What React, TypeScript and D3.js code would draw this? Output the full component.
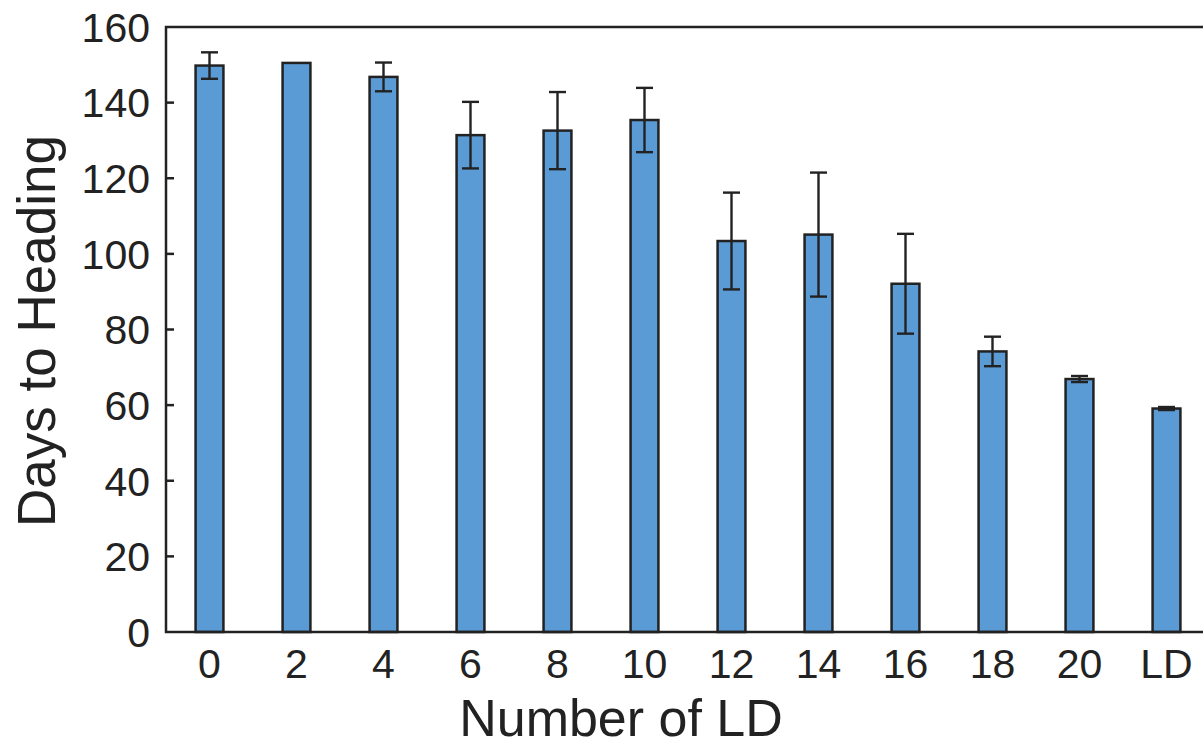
import * as d3 from "d3";
import { useEffect, useRef } from "react";

// categories and values
const categories = ["0", "2", "4", "6", "8", "10", "12", "14", "16", "18", "20", "LD"];
const meanDays = [149.8, 150.5, 146.8, 131.4, 132.6, 135.4, 103.4, 105.1, 92.1, 74.2, 66.9, 59.1];
const errDays = [3.5, 0, 3.8, 8.8, 10.2, 8.5, 12.8, 16.4, 13.2, 3.9, 0.8, 0.4];
const yTicks = [0, 20, 40, 60, 80, 100, 120, 140, 160];

const W = 1203;
const H = 747;

const App = () => {
  const ref = useRef<SVGSVGElement>(null);

  useEffect(() => {
    document.body.style.margin = "0";
    const svg = d3.select(ref.current);
    svg.selectAll("*").remove();

    const margin = { top: 27, left: 166, bottom: 115, right: -7 };
    const left = margin.left;
    const right = W - margin.right;
    const top = margin.top;
    const bottom = H - margin.bottom;

    const x = d3.scaleBand().domain(categories).range([left, right]).paddingInner(0).paddingOuter(0);
    const y = d3.scaleLinear().domain([0, 160]).range([bottom, top]);

    const barW = x.step() * 0.32;
    const font = "'Liberation Sans', Arial, sans-serif";
    const color = "#222";

    // bars
    svg.append("g")
      .selectAll("rect")
      .data(categories)
      .enter()
      .append("rect")
      .attr("x", (d) => x(d)! + x.bandwidth() / 2 - barW / 2)
      .attr("y", (d, i) => y(meanDays[i]))
      .attr("width", barW)
      .attr("height", (d, i) => y(0) - y(meanDays[i]))
      .style("fill", "#5b9bd5")
      .style("stroke", color)
      .style("stroke-width", 2.5);

    // error bars
    const capW = 17;
    const eb = svg.append("g").style("stroke", color).style("stroke-width", 2.4);
    categories.forEach((c, i) => {
      if (errDays[i] <= 0) return;
      const cx = x(c)! + x.bandwidth() / 2;
      const hi = y(meanDays[i] + errDays[i]);
      const lo = y(meanDays[i] - errDays[i]);
      eb.append("line").attr("x1", cx).attr("x2", cx).attr("y1", hi).attr("y2", lo);
      eb.append("line").attr("x1", cx - capW / 2).attr("x2", cx + capW / 2).attr("y1", hi).attr("y2", hi);
      eb.append("line").attr("x1", cx - capW / 2).attr("x2", cx + capW / 2).attr("y1", lo).attr("y2", lo);
    });

    // frame
    svg.append("path")
      .attr("d", `M${right},${top}H${left}V${bottom}H${right}`)
      .style("fill", "none")
      .style("stroke", color)
      .style("stroke-width", 2.5);

    // y ticks inside
    svg.append("g")
      .selectAll("line")
      .data(yTicks.slice(1, -1))
      .enter()
      .append("line")
      .attr("x1", left)
      .attr("x2", left + 8)
      .attr("y1", (d) => y(d))
      .attr("y2", (d) => y(d))
      .style("stroke", color)
      .style("stroke-width", 2.5);

    svg.append("g")
      .selectAll("text")
      .data(yTicks)
      .enter()
      .append("text")
      .attr("x", left - 16)
      .attr("y", (d) => y(d))
      .attr("dy", "0.36em")
      .attr("text-anchor", "end")
      .style("font-family", font)
      .style("font-size", "41px")
      .style("fill", color)
      .text((d) => d);

    svg.append("g")
      .selectAll("text")
      .data(categories)
      .enter()
      .append("text")
      .attr("x", (d) => x(d)! + x.bandwidth() / 2)
      .attr("y", 678)
      .attr("text-anchor", "middle")
      .style("font-family", font)
      .style("font-size", "41px")
      .style("fill", color)
      .text((d) => d);

    // axis titles
    svg.append("text")
      .attr("x", 621)
      .attr("y", 736)
      .attr("text-anchor", "middle")
      .style("font-family", font)
      .style("font-size", "52px")
      .style("fill", color)
      .text("Number of LD");

    svg.append("text")
      .attr("transform", `translate(55, 331) rotate(-90)`)
      .attr("text-anchor", "middle")
      .style("font-family", font)
      .style("font-size", "53px")
      .style("fill", color)
      .text("Days to Heading");
  }, []);

  return <svg ref={ref} width={W} height={H} style={{ display: "block", background: "#fff" }}></svg>;
};

export default App;
